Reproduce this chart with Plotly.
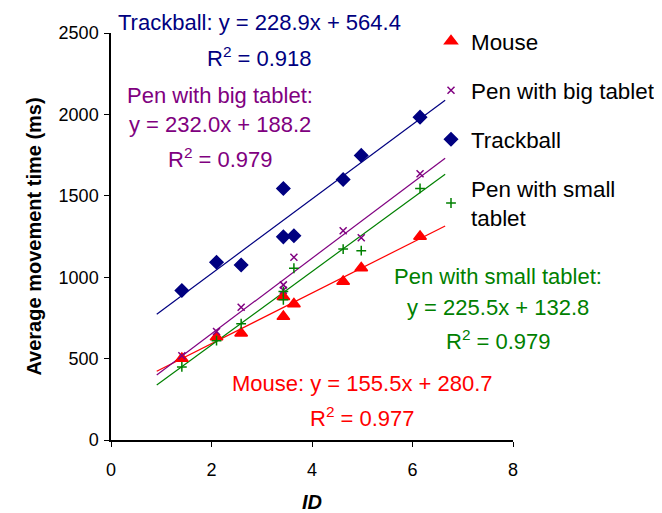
import plotly.graph_objects as go

# Fitts' law data: index of difficulty vs. average movement time
id_vals = [1.41, 2.10, 2.59, 3.43, 3.43, 3.64, 4.62, 4.98, 6.15]

mouse_mt = [500, 632, 656, 880, 758, 835, 974, 1056, 1250]
big_tablet_mt = [518, 667, 816, 953, 920, 1122, 1285, 1242, 1636]
trackball_mt = [918, 1092, 1075, 1545, 1248, 1255, 1600, 1748, 1983]
small_tablet_mt = [449, 610, 714, 912, 861, 1055, 1173, 1163, 1545]

devices = ["Mouse", "Pen with big tablet", "Trackball", "Pen with small tablet"]
legend_names = ["Mouse", "Pen with big tablet", "Trackball", "Pen with small<br>tablet"]
series = [mouse_mt, big_tablet_mt, trackball_mt, small_tablet_mt]
slopes = [155.5, 232.0, 228.9, 225.5]
intercepts = [280.7, 188.2, 564.4, 132.8]
r2 = [0.977, 0.979, 0.918, 0.979]
trend_x = [0.91, 6.65]  # trendline extended 0.5 either side of the data

colors = ["#FF0000", "#800080", "#000080", "#008000"]
symbols = ["triangle-up", "x-thin", "diamond", "cross-thin"]
sizes = [11, 7, 10, 7]

font = "Liberation Sans, Arial, sans-serif"

# page has an 8px body margin; figure made a bit wider so the legend never pushes the margin
OFF = 8
W, H = 680, 505
L, R, T, B = 103, 175, 25, 73
PW, PH = W - L - R, H - T - B

fig = go.Figure()

# trendlines first so markers sit on top
for i in range(len(devices)):
    ty = [slopes[i] * x + intercepts[i] for x in trend_x]
    fig.add_trace(go.Scatter(x=trend_x, y=ty, mode='lines', showlegend=False,
                             line=dict(color=colors[i], width=1.2), hoverinfo='skip'))

for i in range(len(devices)):
    fig.add_trace(go.Scatter(x=id_vals, y=series[i], mode='markers', name=legend_names[i],
                             legendgroup=devices[i],
                             marker=dict(symbol=symbols[i], color=colors[i], size=sizes[i],
                                         line=dict(color=colors[i], width=1.5))))

# equation labels, placed by pixel position on the page
def px(x, y):
    return (x - OFF - L) / PW, (H - B - (y - OFF)) / PH

labels = [
    (["Trackball: y = 228.9x + 564.4", "R<sup>2</sup> = 0.918"], 259, [22, 57], colors[2]),
    (["Pen with big tablet:", "y = 232.0x + 188.2", "R<sup>2</sup> = 0.979"], 220, [95, 125, 158], colors[1]),
    (["Pen with small tablet:", "y = 225.5x + 132.8", "R<sup>2</sup> = 0.979"], 498, [276, 307, 340], colors[3]),
    (["Mouse: y = 155.5x + 280.7", "R<sup>2</sup> = 0.977"], 362, [383, 417], colors[0]),
]
for lines, cx, ys, c in labels:
    for t, yy in zip(lines, ys):
        ax, ay = px(cx, yy)
        fig.add_annotation(x=ax, y=ay, xref='paper', yref='paper', text=t, showarrow=False,
                           xanchor='center', yanchor='middle',
                           font=dict(family=font, size=22, color=c))

# legend top kept low enough that plotly does not push the top margin
lx, ly = px(431, 20)
fig.update_layout(
    width=W, height=H,
    paper_bgcolor='white', plot_bgcolor='white',
    margin=dict(l=L, r=R, t=T, b=B),
    font=dict(family=font, size=18, color='black'),
    legend=dict(x=lx, y=ly, xanchor='left', yanchor='top',
                font=dict(family=font, size=22.4, color='black'),
                tracegroupgap=17, bgcolor='rgba(0,0,0,0)'),
    xaxis=dict(range=[0, 8], dtick=2, showgrid=False, zeroline=False, automargin=False,
               showline=True, linecolor='black', linewidth=1.5,
               ticks='outside', ticklen=5, tickcolor='black', ticklabelstandoff=8,
               title=dict(text='<b><i>ID</i></b>', font=dict(size=20), standoff=19)),
    yaxis=dict(range=[0, 2500], dtick=500, showgrid=False, zeroline=False, automargin=False,
               showline=True, linecolor='black', linewidth=1.5,
               ticks='outside', ticklen=5, tickcolor='black', ticklabelstandoff=2,
               title=dict(text='<b>Average movement time (ms)</b>', font=dict(size=20), standoff=12)),
)

fig.write_html("out.html")
